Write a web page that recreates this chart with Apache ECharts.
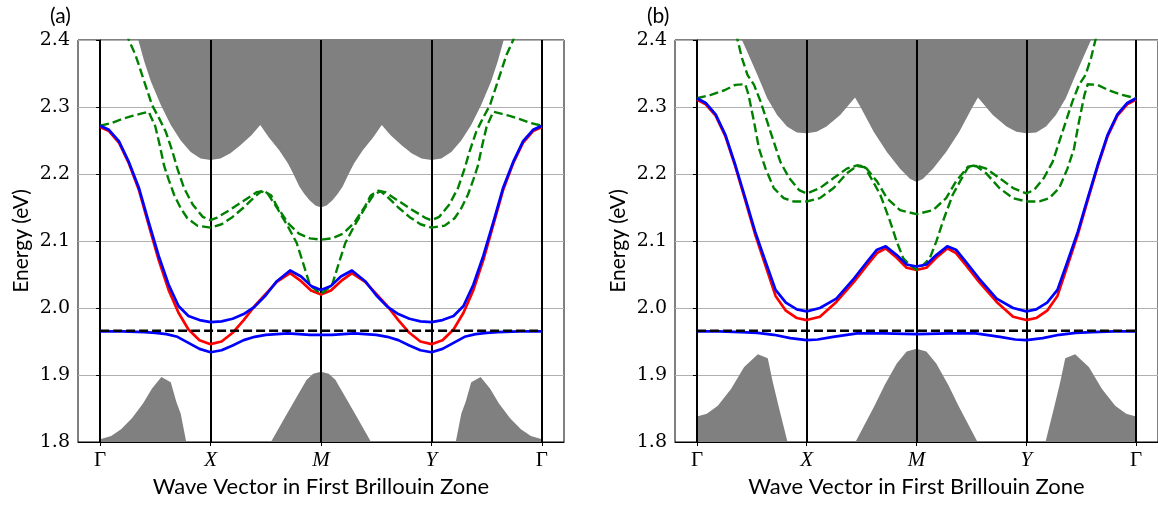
<!DOCTYPE html>
<html>
<head>
<meta charset="utf-8">
<script src="https://cdn.jsdelivr.net/npm/echarts@6/dist/echarts.min.js"></script>
<style>
  html, body { margin: 0; padding: 0; background: #fff; }
  #bandChart { width: 1158px; height: 505px; }
</style>
</head>
<body>
<div id="bandChart"></div>
<script>
// high-symmetry points along the path
var kTicks = [0, 1, 2, 3, 4];
var kLabels = ['Γ', 'X', 'M', 'Y', 'Γ'];
var panelTags = ['(a)', '(b)'];
var xTitle = 'Wave Vector in First Brillouin Zone';
var yTitle = 'Energy (eV)';

// ---- panel (a) ----
var aFermi = [[0, 1.966], [4, 1.966]];
var aBlueUp = [[0,2.272],[0.08,2.266],[0.17,2.249],[0.26,2.218],[0.35,2.180],[0.44,2.128],[0.53,2.078],[0.62,2.035],[0.71,2.003],[0.8,1.988],[0.9,1.982],[1,1.979],[1.1,1.980],[1.2,1.984],[1.3,1.991],[1.4,2.002],[1.5,2.019],[1.6,2.040],[1.72,2.056],[1.82,2.047],[1.91,2.033],[2,2.027],
  [2.09,2.033],[2.18,2.047],[2.28,2.056],[2.4,2.040],[2.5,2.019],[2.6,2.002],[2.7,1.991],[2.8,1.984],[2.9,1.980],[3,1.979],[3.1,1.982],[3.2,1.988],[3.29,2.003],[3.38,2.035],[3.47,2.078],[3.56,2.128],[3.65,2.180],[3.74,2.218],[3.83,2.249],[3.92,2.266],[4,2.272]];
var aRed = [[0,2.270],[0.08,2.264],[0.17,2.247],[0.26,2.216],[0.35,2.177],[0.44,2.124],[0.53,2.072],[0.62,2.027],[0.71,1.993],[0.8,1.968],[0.9,1.952],[1,1.946],[1.1,1.950],[1.2,1.963],[1.3,1.982],[1.4,2.003],[1.5,2.021],[1.6,2.039],[1.72,2.052],[1.82,2.040],[1.91,2.026],[2,2.020],
  [2.09,2.026],[2.18,2.040],[2.28,2.052],[2.4,2.039],[2.5,2.021],[2.6,2.003],[2.7,1.982],[2.8,1.963],[2.9,1.950],[3,1.946],[3.1,1.952],[3.2,1.968],[3.29,1.993],[3.38,2.027],[3.47,2.072],[3.56,2.124],[3.65,2.177],[3.74,2.216],[3.83,2.247],[3.92,2.264],[4,2.270]];
var aBlueLow = [[0,1.965],[0.2,1.965],[0.4,1.964],[0.5,1.963],[0.6,1.961],[0.7,1.957],[0.8,1.948],[0.9,1.939],[1,1.934],[1.1,1.937],[1.2,1.944],[1.3,1.952],[1.4,1.957],[1.5,1.960],[1.6,1.961],[1.7,1.962],[1.8,1.961],[1.9,1.960],[2,1.960],
  [2.1,1.960],[2.2,1.961],[2.3,1.962],[2.4,1.961],[2.5,1.960],[2.6,1.957],[2.7,1.952],[2.8,1.944],[2.9,1.937],[3,1.934],[3.1,1.939],[3.2,1.948],[3.3,1.957],[3.4,1.961],[3.5,1.963],[3.6,1.964],[3.8,1.965],[4,1.965]];
var aGreen1 = [[0,2.272],[0.1,2.276],[0.2,2.282],[0.3,2.287],[0.37,2.290],[0.44,2.293],[0.5,2.271],[0.54,2.243],[0.58,2.212],[0.62,2.192],[0.67,2.169],[0.73,2.149],[0.79,2.134],[0.88,2.123],[1,2.120],[1.1,2.125],[1.2,2.136],[1.3,2.150],[1.4,2.166],[1.46,2.174],[1.52,2.170],[1.6,2.150],[1.7,2.122],[1.78,2.097],[1.84,2.066],[1.9,2.034],[2,2.021],
  [2.1,2.034],[2.16,2.066],[2.22,2.097],[2.3,2.122],[2.4,2.150],[2.48,2.170],[2.54,2.174],[2.6,2.166],[2.7,2.150],[2.8,2.136],[2.9,2.125],[3,2.120],[3.12,2.123],[3.21,2.134],[3.27,2.149],[3.33,2.169],[3.38,2.192],[3.42,2.212],[3.46,2.243],[3.5,2.271],[3.56,2.293],[3.63,2.290],[3.7,2.287],[3.8,2.282],[3.9,2.276],[4,2.272]];
var aGreen2 = [[0.2,2.430],[0.26,2.400],[0.32,2.378],[0.38,2.348],[0.43,2.323],[0.47,2.303],[0.535,2.283],[0.595,2.263],[0.656,2.233],[0.7,2.208],[0.76,2.179],[0.84,2.154],[0.93,2.136],[1,2.131],[1.06,2.135],[1.18,2.147],[1.3,2.160],[1.42,2.173],[1.48,2.175],[1.55,2.168],[1.6,2.152],[1.7,2.127],[1.8,2.111],[1.9,2.104],[2,2.102],
  [2.1,2.104],[2.2,2.111],[2.3,2.127],[2.4,2.152],[2.45,2.168],[2.52,2.175],[2.58,2.173],[2.7,2.160],[2.82,2.147],[2.94,2.135],[3,2.131],[3.07,2.136],[3.16,2.154],[3.24,2.179],[3.3,2.208],[3.344,2.233],[3.405,2.263],[3.465,2.283],[3.53,2.303],[3.57,2.323],[3.62,2.348],[3.68,2.378],[3.74,2.400],[3.8,2.430]];
var aBulkTop = [[0.3,2.43],[0.346,2.40],[0.4,2.368],[0.46,2.338],[0.55,2.303],[0.64,2.273],[0.73,2.250],[0.82,2.233],[0.91,2.223],[1,2.221],[1.09,2.223],[1.18,2.231],[1.27,2.243],[1.37,2.258],[1.45,2.273],[1.53,2.254],[1.62,2.236],[1.7,2.216],[1.75,2.200],[1.805,2.181],[1.85,2.170],[1.896,2.161],[1.95,2.153],[2,2.150],
  [2.05,2.153],[2.104,2.161],[2.15,2.170],[2.195,2.181],[2.25,2.200],[2.3,2.216],[2.38,2.236],[2.47,2.254],[2.55,2.273],[2.63,2.258],[2.73,2.243],[2.82,2.231],[2.91,2.223],[3,2.221],[3.09,2.223],[3.18,2.233],[3.27,2.250],[3.36,2.273],[3.45,2.303],[3.54,2.338],[3.6,2.368],[3.654,2.40],[3.7,2.43]];
var aBulkBottom = [[0,1.804],[0.1,1.809],[0.19,1.819],[0.29,1.836],[0.39,1.858],[0.47,1.880],[0.555,1.897],[0.64,1.889],[0.69,1.860],[0.73,1.842],[0.78,1.800],[0.85,1.740],[1.45,1.740],[1.547,1.800],[1.67,1.836],[1.79,1.870],[1.87,1.893],[1.93,1.902],[2,1.905],
  [2.07,1.902],[2.13,1.893],[2.21,1.870],[2.33,1.836],[2.453,1.800],[2.55,1.740],[3.15,1.740],[3.22,1.800],[3.27,1.842],[3.31,1.860],[3.36,1.889],[3.445,1.897],[3.53,1.880],[3.61,1.858],[3.71,1.836],[3.81,1.819],[3.9,1.809],[4,1.804]];

// ---- panel (b) ----
var bFermi = [[0, 1.966], [4, 1.966]];
var bBlueUp = [[0,2.313],[0.08,2.306],[0.17,2.289],[0.26,2.258],[0.35,2.213],[0.44,2.164],[0.53,2.114],[0.625,2.069],[0.716,2.027],[0.81,2.008],[0.91,1.998],[1,1.995],[1.12,2.000],[1.27,2.014],[1.43,2.044],[1.55,2.069],[1.64,2.087],[1.72,2.092],[1.82,2.079],[1.91,2.065],[2,2.062],
  [2.09,2.065],[2.18,2.079],[2.28,2.092],[2.36,2.087],[2.45,2.069],[2.57,2.044],[2.73,2.014],[2.88,2.000],[3,1.995],[3.09,1.998],[3.19,2.008],[3.284,2.027],[3.375,2.069],[3.47,2.114],[3.56,2.164],[3.65,2.213],[3.74,2.258],[3.83,2.289],[3.92,2.306],[4,2.313]];
var bRed = [[0,2.311],[0.08,2.304],[0.17,2.287],[0.26,2.256],[0.35,2.211],[0.44,2.161],[0.53,2.110],[0.625,2.063],[0.716,2.018],[0.81,1.996],[0.91,1.985],[1,1.982],[1.12,1.987],[1.27,2.009],[1.43,2.039],[1.55,2.064],[1.64,2.082],[1.72,2.089],[1.82,2.075],[1.91,2.060],[2,2.057],
  [2.09,2.060],[2.18,2.075],[2.28,2.089],[2.36,2.082],[2.45,2.064],[2.57,2.039],[2.73,2.009],[2.88,1.987],[3,1.982],[3.09,1.985],[3.19,1.996],[3.284,2.018],[3.375,2.063],[3.47,2.110],[3.56,2.161],[3.65,2.211],[3.74,2.256],[3.83,2.287],[3.92,2.304],[4,2.311]];
var bBlueLow = [[0,1.965],[0.2,1.965],[0.4,1.964],[0.55,1.963],[0.7,1.960],[0.85,1.955],[1,1.952],[1.1,1.953],[1.24,1.957],[1.46,1.962],[1.7,1.962],[2,1.961],
  [2.3,1.962],[2.54,1.962],[2.76,1.957],[2.9,1.953],[3,1.952],[3.15,1.955],[3.3,1.960],[3.45,1.963],[3.6,1.964],[3.8,1.965],[4,1.965]];
var bGreen1 = [[0,2.313],[0.127,2.318],[0.25,2.325],[0.35,2.333],[0.44,2.334],[0.47,2.318],[0.52,2.278],[0.565,2.238],[0.625,2.208],[0.7,2.179],[0.79,2.164],[0.88,2.159],[1,2.159],[1.12,2.164],[1.245,2.179],[1.365,2.201],[1.456,2.212],[1.53,2.210],[1.6,2.190],[1.67,2.169],[1.76,2.129],[1.82,2.099],[1.88,2.074],[1.94,2.064],[2,2.057],
  [2.06,2.064],[2.12,2.074],[2.18,2.099],[2.24,2.129],[2.33,2.169],[2.4,2.190],[2.47,2.210],[2.544,2.212],[2.635,2.201],[2.755,2.179],[2.88,2.164],[3,2.159],[3.12,2.159],[3.21,2.164],[3.3,2.179],[3.375,2.208],[3.435,2.238],[3.48,2.278],[3.53,2.318],[3.56,2.334],[3.65,2.333],[3.75,2.325],[3.873,2.318],[4,2.313]];
var bGreen2 = [[0.33,2.43],[0.37,2.40],[0.41,2.373],[0.46,2.348],[0.52,2.333],[0.58,2.308],[0.64,2.278],[0.7,2.248],[0.76,2.218],[0.84,2.194],[0.93,2.176],[1,2.171],[1.12,2.179],[1.245,2.194],[1.365,2.208],[1.46,2.213],[1.53,2.211],[1.64,2.189],[1.73,2.164],[1.85,2.146],[2,2.140],
  [2.15,2.146],[2.27,2.164],[2.36,2.189],[2.47,2.211],[2.54,2.213],[2.635,2.208],[2.755,2.194],[2.88,2.179],[3,2.171],[3.07,2.176],[3.16,2.194],[3.24,2.218],[3.3,2.248],[3.36,2.278],[3.42,2.308],[3.48,2.333],[3.54,2.348],[3.59,2.373],[3.63,2.40],[3.67,2.43]];
var bBulkTop = [[0.38,2.42],[0.41,2.40],[0.47,2.378],[0.55,2.348],[0.64,2.313],[0.73,2.288],[0.82,2.271],[0.91,2.262],[1,2.261],[1.09,2.263],[1.18,2.271],[1.305,2.288],[1.44,2.314],[1.49,2.300],[1.61,2.263],[1.73,2.233],[1.85,2.208],[1.94,2.193],[2,2.188],
  [2.06,2.193],[2.15,2.208],[2.27,2.233],[2.39,2.263],[2.51,2.300],[2.56,2.314],[2.695,2.288],[2.82,2.271],[2.91,2.263],[3,2.261],[3.09,2.262],[3.18,2.271],[3.27,2.288],[3.36,2.313],[3.45,2.348],[3.53,2.378],[3.59,2.40],[3.62,2.42]];
var bBulkBottom = [[0,1.838],[0.09,1.842],[0.19,1.854],[0.31,1.879],[0.43,1.912],[0.555,1.931],[0.645,1.925],[0.69,1.890],[0.746,1.852],[0.825,1.800],[0.9,1.750],[1.35,1.750],[1.444,1.800],[1.62,1.855],[1.71,1.885],[1.82,1.917],[1.91,1.935],[2,1.939],
  [2.09,1.935],[2.18,1.917],[2.29,1.885],[2.38,1.855],[2.556,1.800],[2.65,1.750],[3.1,1.750],[3.175,1.800],[3.254,1.852],[3.31,1.890],[3.355,1.925],[3.445,1.931],[3.57,1.912],[3.69,1.879],[3.81,1.854],[3.91,1.842],[4,1.838]];

var panels = [
  {fermi: aFermi, blueUp: aBlueUp, red: aRed, blueLow: aBlueLow, green1: aGreen1, green2: aGreen2, bulkTop: aBulkTop, bulkBottom: aBulkBottom},
  {fermi: bFermi, blueUp: bBlueUp, red: bRed, blueLow: bBlueLow, green1: bGreen1, green2: bGreen2, bulkTop: bBulkTop, bulkBottom: bBulkBottom}
];
var gridLeft = [78, 675];

var chart = echarts.init(document.getElementById('bandChart'), null, {renderer: 'canvas'});

function bulkFill(gi, data, origin) {
    return {
        type: 'line', xAxisIndex: gi, yAxisIndex: gi, data: data,
        showSymbol: false, symbol: 'none', silent: true, z: 1,
        lineStyle: {width: 0},
        areaStyle: {color: '#808080', opacity: 1, origin: origin}
    };
}

function bandLine(gi, data, color, width, dashed, z) {
    return {
        type: 'line', xAxisIndex: gi, yAxisIndex: gi, data: data,
        showSymbol: false, symbol: 'none', silent: true, z: z,
        lineStyle: {color: color, width: width, type: dashed ? [9, 4] : 'solid', cap: 'butt', join: 'round'}
    };
}

var grids = [], xAxes = [], yAxes = [], series = [], graphics = [];
panels.forEach(function (p, gi) {
    grids.push({left: gridLeft[gi], top: 40, width: 486, height: 402, show: true, borderColor: '#000', borderWidth: 1, backgroundColor: 'transparent'});
    xAxes.push({
        type: 'value', gridIndex: gi, min: -0.2, max: 4.2,
        name: xTitle, nameLocation: 'middle', nameGap: 33,
        nameTextStyle: {fontFamily: 'Lato', fontSize: 22, color: '#000'},
        axisLine: {lineStyle: {color: '#000', width: 1}},
        axisTick: {customValues: kTicks, length: 4, lineStyle: {color: '#000'}},
        axisLabel: {
            customValues: kTicks, margin: 8,
            formatter: function (v) {
                var s = kLabels[kTicks.indexOf(v)];
                return s === 'Γ' ? '{g|' + s + '}' : '{i|' + s + '}';
            },
            rich: {
                g: {fontFamily: 'Liberation Serif', fontSize: 21, color: '#000'},
                i: {fontFamily: 'Liberation Serif', fontStyle: 'italic', fontSize: 21, color: '#000'}
            }
        },
        splitLine: {show: false}
    });
    yAxes.push({
        type: 'value', gridIndex: gi, min: 1.8, max: 2.4, interval: 0.1,
        name: yTitle, nameLocation: 'middle', nameGap: 46, nameRotate: 90,
        nameTextStyle: {fontFamily: 'Lato', fontSize: 21, color: '#000'},
        axisLine: {show: true, lineStyle: {color: '#000', width: 1}},
        axisTick: {show: true, length: 4, lineStyle: {color: '#000'}},
        axisLabel: {
            margin: 8, fontFamily: 'DejaVu Serif', fontSize: 19, color: '#000',
            formatter: function (v) { return v.toFixed(1); }
        },
        splitLine: {show: true, lineStyle: {color: '#b0b0b0', width: 1}}
    });

    series.push(bulkFill(gi, p.bulkTop, 'end'));
    series.push(bulkFill(gi, p.bulkBottom, 'start'));
    series.push(bandLine(gi, p.red, '#ff0000', 2.7, false, 6));
    series.push(bandLine(gi, p.green1, '#008000', 2.4, true, 7));
    series.push(bandLine(gi, p.green2, '#008000', 2.4, true, 7));
    series.push(bandLine(gi, p.blueUp, '#0000ff', 2.7, false, 8));
    series.push(bandLine(gi, p.blueLow, '#0000ff', 2.7, false, 8));
    var fermi = bandLine(gi, p.fermi, '#000', 2.5, true, 9);
    // vertical lines at the high-symmetry points
    fermi.markLine = {
        silent: true, symbol: ['none', 'none'], animation: false,
        label: {show: false},
        lineStyle: {color: '#000', width: 2, type: 'solid'},
        data: kTicks.map(function (k) { return {xAxis: k}; })
    };
    series.push(fermi);

    graphics.push({
        type: 'text', left: gridLeft[gi] - 28, top: 6,
        style: {text: panelTags[gi], fontFamily: 'Lato', fontSize: 21, fill: '#000'}
    });
});

chart.setOption({
    animation: false,
    grid: grids,
    xAxis: xAxes,
    yAxis: yAxes,
    series: series,
    graphic: graphics
});
</script>
</body>
</html>
